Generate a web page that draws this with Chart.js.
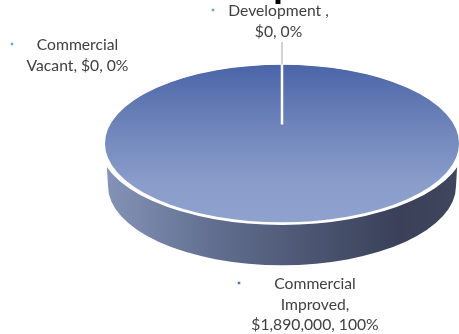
<!DOCTYPE html>
<html>
<head>
<meta charset="utf-8">
<script src="https://cdn.jsdelivr.net/npm/chart.js@4/dist/chart.umd.min.js"></script>
<style>
  html, body { margin: 0; padding: 0; background: #fff; }
  #wrap { position: relative; width: 459px; height: 334px; overflow: hidden; }
</style>
</head>
<body>
<div id="wrap"><canvas id="pie" width="459" height="334"></canvas></div>
<script>
const categories = ["Development", "Commercial Vacant", "Commercial Improved"];
const assessedValues = [0, 0, 1890000];
const labelLines = [
  ["Development ,", "$0, 0%"],
  ["Commercial", "Vacant, $0, 0%"],
  ["Commercial", "Improved,", "$1,890,000, 100%"]
];
const markerColors = ["#6fa3dc", "#6fa3dc", "#5570b0"];

// Projection of the flat pie onto a tilted plane.
const TILT = 0.445;
const CENTER_Y = 143.5;
const DEPTH = 42.5;
const FLOOR_INSET = 4;
const HUB_RISE = 19;

const tiltedPie = {
  id: "tiltedPie",
  beforeDatasetsDraw(chart) {
    const ctx = chart.ctx;
    const arc = chart.getDatasetMeta(0).data[2];
    const { x, outerRadius: r } = arc;
    const ry = r * TILT;
    const floorY = CENTER_Y + DEPTH;

    // Side wall of the disc, slightly narrower at its foot
    const side = ctx.createLinearGradient(x - r, 0, x + r, 0);
    side.addColorStop(0, "#8494b8");
    side.addColorStop(0.3, "#626f90");
    side.addColorStop(0.6, "#4a5470");
    side.addColorStop(0.83, "#3a4058");
    side.addColorStop(1, "#40465c");
    ctx.save();
    ctx.fillStyle = side;
    ctx.beginPath();
    ctx.moveTo(x - r + 2, CENTER_Y + 8);
    ctx.lineTo(x + r - 2, CENTER_Y + 8);
    ctx.lineTo(x + r - FLOOR_INSET, floorY);
    ctx.ellipse(x, floorY, r - FLOOR_INSET, ry, 0, 0, Math.PI, false);
    ctx.closePath();
    ctx.fill();
    ctx.restore();

    // Tilt everything the pie controller draws
    ctx.save();
    ctx.translate(x, CENTER_Y);
    ctx.scale(1, TILT);
    ctx.translate(-x, -arc.y);
  },
  afterDatasetsDraw(chart) {
    const ctx = chart.ctx;
    const arc = chart.getDatasetMeta(0).data[2];
    const { x, y, outerRadius: r } = arc;

    // White rim, still inside the tilted plane so it thins toward the sides
    ctx.strokeStyle = "#ffffff";
    ctx.lineWidth = 6;
    ctx.beginPath();
    ctx.arc(x, y, r + 2, 0, Math.PI * 2);
    ctx.stroke();
    ctx.restore();

    const top = CENTER_Y - r * TILT;

    // Boundary of the two empty slices: white spoke and grey leader
    ctx.save();
    ctx.strokeStyle = "#ffffff";
    ctx.lineWidth = 2.5;
    ctx.beginPath();
    ctx.moveTo(x, top);
    ctx.lineTo(x, CENTER_Y - HUB_RISE);
    ctx.stroke();
    ctx.strokeStyle = "#a6a6a6";
    ctx.lineWidth = 1;
    ctx.beginPath();
    ctx.moveTo(x, 42);
    ctx.lineTo(x, top);
    ctx.stroke();

    // Data labels with their small markers
    ctx.font = "15.7px Lato";
    ctx.fillStyle = "#404040";
    ctx.textAlign = "center";
    ctx.textBaseline = "middle";
    const anchors = [
      { x: 278.5, y: 11, mx: 213, my: 10 },
      { x: 77.5, y: 45, mx: 12, my: 44 },
      { x: 315, y: 284, mx: 239, my: 283 }
    ];
    labelLines.forEach((lines, i) => {
      lines.forEach((t, j) => ctx.fillText(t, anchors[i].x, anchors[i].y + j * 20.5));
      ctx.save();
      ctx.fillStyle = markerColors[i];
      ctx.fillRect(anchors[i].mx - 1.25, anchors[i].my - 1.25, 2.5, 2.5);
      ctx.restore();
    });

    // Descender of the title, cropped at the top edge
    ctx.font = "bold 36px 'Liberation Sans'";
    ctx.fillStyle = "#000000";
    ctx.textBaseline = "alphabetic";
    ctx.fillText("p", 284, -4);
    ctx.restore();
  }
};

new Chart(document.getElementById("pie"), {
  type: "pie",
  data: {
    labels: categories,
    datasets: [{
      data: assessedValues,
      radius: 178,
      borderWidth: 0,
      backgroundColor(c) {
        const y = c.chart.height / 2;
        const r = 178;
        const g = c.chart.ctx.createLinearGradient(0, y - r, 0, y + r);
        g.addColorStop(0, "#4a64a8");
        g.addColorStop(0.4, "#6f85ba");
        g.addColorStop(0.75, "#8a9dcb");
        g.addColorStop(1, "#8fa1cd");
        return g;
      }
    }]
  },
  options: {
    responsive: false,
    animation: false,
    layout: { padding: { left: 105 } },
    plugins: { legend: { display: false }, tooltip: { enabled: false } }
  },
  plugins: [tiltedPie]
});
</script>
</body>
</html>
